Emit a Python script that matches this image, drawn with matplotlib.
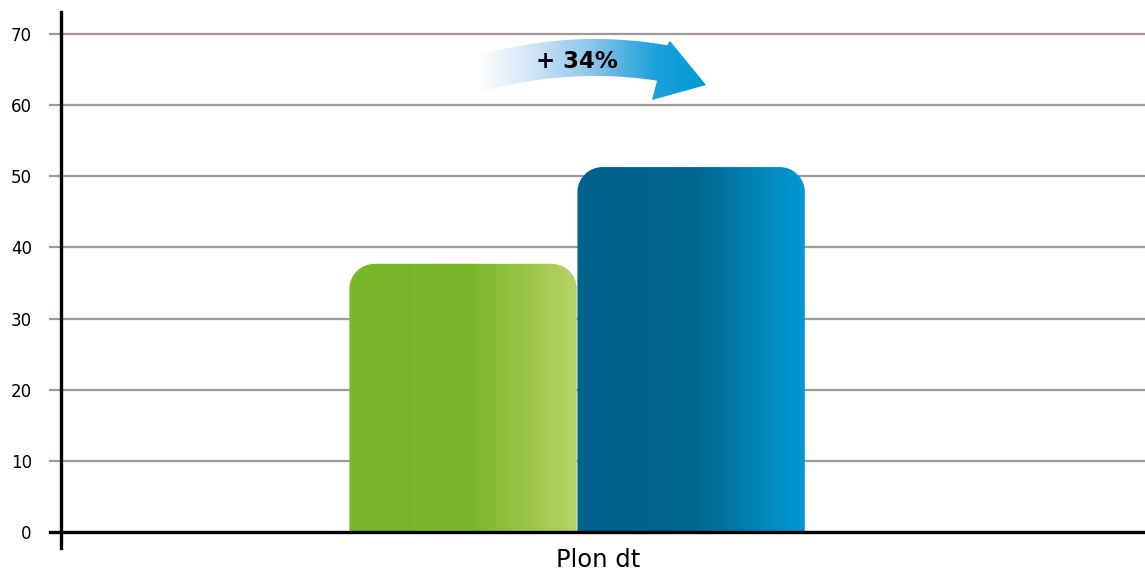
import numpy as np
import matplotlib
matplotlib.use("Agg")
import matplotlib.pyplot as plt
from matplotlib.path import Path
from matplotlib.patches import PathPatch
from matplotlib.colors import LinearSegmentedColormap

# ==========================
# DATA
# ==========================

categories = ["Plon dt"]
bar_values = [37.7, 51.3]
y_ticks = [0, 10, 20, 30, 40, 50, 60, 70]
change_label = "+ 34%"

W, H = 1145, 571
XLIM = (-2.265, 2.489)
YLIM = (-2.25, 73.1)
AX_L, AX_R, AX_T, AX_B = 61, 1145, 12, 548

plt.rcParams["font.family"] = ["DejaVu Sans"]

green = LinearSegmentedColormap.from_list(
    "g", [(0, "#78b72a"), (0.55, "#7bb82c"), (1, "#b8d365")])
blue = LinearSegmentedColormap.from_list(
    "b", [(0, "#01628b"), (0.52, "#02678f"), (1, "#0099d4")])
arrow_cmap = LinearSegmentedColormap.from_list(
    "a", [(0, "#ffffff"), (0.2, "#d9eaf8"), (0.5, "#8cc4ea"),
          (0.78, "#1ca1db"), (1, "#0099d6")])


def px2data(px, py):
    x = XLIM[0] + (px - AX_L) / (AX_R - AX_L) * (XLIM[1] - XLIM[0])
    y = YLIM[1] - (py - AX_T) / (AX_B - AX_T) * (YLIM[1] - YLIM[0])
    return x, y


def rounded_top(x0, x1, y0, y1, rx, ry):
    k = 0.5523
    verts = [
        (x0, y0), (x0, y1 - ry),
        (x0, y1 - ry + k * ry), (x0 + rx - k * rx, y1), (x0 + rx, y1),
        (x1 - rx, y1),
        (x1 - rx + k * rx, y1), (x1, y1 - ry + k * ry), (x1, y1 - ry),
        (x1, y0), (x0, y0),
    ]
    codes = [Path.MOVETO, Path.LINETO,
             Path.CURVE4, Path.CURVE4, Path.CURVE4,
             Path.LINETO,
             Path.CURVE4, Path.CURVE4, Path.CURVE4,
             Path.LINETO, Path.CLOSEPOLY]
    return Path(verts, codes)


fig = plt.figure(figsize=(W / 100, H / 100), dpi=100)
ax = fig.add_axes([AX_L / W, (H - AX_B) / H,
                   (AX_R - AX_L) / W, (AX_B - AX_T) / H])
ax.set_xlim(*XLIM)
ax.set_ylim(*YLIM)

# grid lines (stub left of the axis)
stub = -11 / (AX_R - AX_L)
for t in y_ticks[1:]:
    ax.axhline(t, xmin=stub, xmax=1, color="#a39893", lw=1.6,
               clip_on=False, zorder=1)
ax.axhline(0, xmin=stub, xmax=1, color="black", lw=2.4,
           clip_on=False, zorder=5)

# bars with gradient and rounded tops
grad = np.linspace(0, 1, 256).reshape(1, -1)
xs = [-0.5, 0.5]
for x, v, cm in zip(xs, bar_values, [green, blue]):
    x0, x1 = x - 0.5, x + 0.497
    path = rounded_top(x0, x1, 0, v, 0.11, 3.5)
    patch = PathPatch(path, facecolor="none", edgecolor="none")
    ax.add_patch(patch)
    im = ax.imshow(grad, cmap=cm, extent=[x0, x1, 0, v], aspect="auto",
                   zorder=3, interpolation="bilinear")
    im.set_clip_path(patch)

# curved arrow
def ytop(px):
    return 39 + 0.00121 * (px - 595) ** 2

top_x = np.linspace(480, 667, 40)
bot_x = np.linspace(657, 480, 40)
pts = [(px, ytop(px)) for px in top_x]
pts += [(670, 41), (706, 85), (652, 100)]
pts += [(px, ytop(px) + 37) for px in bot_x]
arrow_pts = [px2data(px, py) for px, py in pts]
arrow = PathPatch(Path(arrow_pts + [arrow_pts[0]], closed=True),
                  facecolor="none", edgecolor="none")
ax.add_patch(arrow)
ax0, ay0 = px2data(478, 102)
ax1, ay1 = px2data(706, 38)
aim = ax.imshow(grad, cmap=arrow_cmap, extent=[ax0, ax1, ay0, ay1],
                aspect="auto", zorder=4, interpolation="bilinear")
aim.set_clip_path(arrow)

tx, ty = px2data(577, 62)
ax.text(tx, ty, change_label, ha="center", va="center", fontsize=16.5,
        fontweight="bold", color="black", zorder=6)

ax.set_xlim(*XLIM)
ax.set_ylim(*YLIM)

# axes styling
for s in ["top", "right", "bottom"]:
    ax.spines[s].set_visible(False)
ax.spines["left"].set_linewidth(2.4)
ax.spines["left"].set_color("black")
ax.spines["left"].set_zorder(6)

ax.set_yticks(y_ticks)
ax.set_yticklabels([str(t) for t in y_ticks])
ax.tick_params(axis="y", length=0, pad=21, labelsize=12)
ax.set_xticks([])

# category label, slightly right of the bar pair as in the original
lx, ly = px2data(598, 567)
ax.text(lx, ly, categories[0], ha="center", va="baseline", fontsize=17.5,
        clip_on=False)

fig.savefig("out.png", dpi=100)
